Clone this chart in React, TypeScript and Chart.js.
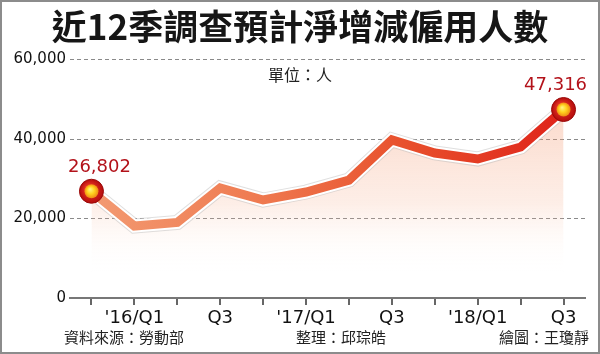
import React, { useEffect, useRef } from "react";
import { Chart, registerables } from "chart.js";

Chart.register(...registerables);

const TITLE = "近12季調查預計淨增減僱用人數";
const UNIT = "單位：人";
const SOURCE = "資料來源：勞動部";
const EDITOR = "整理：邱琮皓";
const ARTIST = "繪圖：王瓊靜";

const categories = ["'15/Q4", "'16/Q1", "'16/Q2", "'16/Q3", "'16/Q4", "'17/Q1", "'17/Q2", "'17/Q3", "'17/Q4", "'18/Q1", "'18/Q2", "'18/Q3"];
const tickLabels = ["", "'16/Q1", "", "Q3", "", "'17/Q1", "", "Q3", "", "'18/Q1", "", "Q3"];
const values = [26802, 18075, 18980, 27600, 24600, 26600, 29600, 39700, 36400, 34900, 37900, 47316];
const yTicks = [0, 20000, 40000, 60000];

function lineGradient(context: any) {
  const chart = context.chart;
  const a = chart.chartArea;
  if (!a) return "#e85530";
  const g = chart.ctx.createLinearGradient(a.left, 0, a.right, 0);
  g.addColorStop(0, "#f39e76");
  g.addColorStop(0.35, "#ef7c52");
  g.addColorStop(0.65, "#e8502c");
  g.addColorStop(1, "#de1e18");
  return g;
}

function fillGradient(context: any) {
  const chart = context.chart;
  const a = chart.chartArea;
  if (!a) return "rgba(245,160,120,0.2)";
  const g = chart.ctx.createLinearGradient(0, a.top + 40, 0, a.bottom - 24);
  g.addColorStop(0, "rgba(244,150,110,0.38)");
  g.addColorStop(0.6, "rgba(246,170,135,0.2)");
  g.addColorStop(1, "rgba(255,255,255,0)");
  return g;
}

const decorPlugin = {
  id: "decor",
  beforeDatasetsDraw(chart: any) {
    const ctx = chart.ctx;
    const ys = chart.scales.y;
    const a = chart.chartArea;
    ctx.save();
    ctx.strokeStyle = "#8a8a8a";
    ctx.lineWidth = 1;
    ctx.setLineDash([4, 3]);
    yTicks.forEach((v) => {
      if (v === 0) return;
      const y = Math.round(ys.getPixelForValue(v)) + 0.5;
      ctx.beginPath();
      ctx.moveTo(a.left, y);
      ctx.lineTo(a.right, y);
      ctx.stroke();
    });
    ctx.restore();
  },
  afterDraw(chart: any) {
    const ctx = chart.ctx;
    ctx.save();
    ctx.fillStyle = "#161616";
    ctx.textAlign = "center";
    ctx.textBaseline = "middle";
    ctx.font = "bold 35px 'Noto Sans CJK TC'";
    ctx.fillText(TITLE, 300, 27);
    ctx.font = "16px 'Noto Sans CJK TC'";
    ctx.fillStyle = "#222";
    ctx.fillText(UNIT, 300, 75);
    ctx.font = "15px 'Noto Sans CJK TC'";
    ctx.textAlign = "left";
    ctx.fillText(SOURCE, 64, 337);
    ctx.textAlign = "center";
    ctx.fillText(EDITOR, 341, 337);
    ctx.textAlign = "right";
    ctx.fillText(ARTIST, 589, 337);
    ctx.strokeStyle = "#8c8c8c";
    ctx.lineWidth = 2;
    ctx.strokeRect(1, 1, 598, 352);
    ctx.restore();
  },
  afterDatasetsDraw(chart: any) {
    const ctx = chart.ctx;
    const meta = chart.getDatasetMeta(0);
    const idxs = [0, values.length - 1];
    ctx.save();
    idxs.forEach((i) => {
      const p = meta.data[i];
      if (!p) return;
      const x = p.x;
      const y = p.y;
      ctx.beginPath();
      ctx.arc(x, y, 12, 0, Math.PI * 2);
      const rg = ctx.createRadialGradient(x - 3, y - 3, 2, x, y, 12);
      rg.addColorStop(0, "#f03a2a");
      rg.addColorStop(1, "#b40c0c");
      ctx.fillStyle = rg;
      ctx.fill();
      ctx.strokeStyle = "#9a0a0a";
      ctx.lineWidth = 1;
      ctx.stroke();
      ctx.beginPath();
      ctx.arc(x, y, 7, 0, Math.PI * 2);
      const yg = ctx.createRadialGradient(x - 1.5, y - 2, 0.5, x, y, 7);
      yg.addColorStop(0, "#fff27a");
      yg.addColorStop(0.5, "#ffd21e");
      yg.addColorStop(1, "#f08a14");
      ctx.fillStyle = yg;
      ctx.fill();
      ctx.fillStyle = "#b3121a";
      ctx.font = "18px 'DejaVu Sans'";
      ctx.textAlign = "center";
      ctx.textBaseline = "middle";
      const dx = i === 0 ? 8 : -8;
      ctx.fillText(values[i].toLocaleString("en-US"), x + dx, y - 24);
    });
    ctx.restore();
  },
};

export default function App() {
  const ref = useRef<HTMLCanvasElement | null>(null);
  useEffect(() => {
    document.body.style.margin = "0";
    const canvas = ref.current;
    if (!canvas) return;
    const chart = new Chart(canvas, {
      type: "line",
      data: {
        labels: categories,
        datasets: [
          {
            data: values,
            borderColor: lineGradient,
            borderWidth: 9,
            pointRadius: 0,
            fill: false,
            tension: 0,
          },
          {
            data: values,
            borderColor: "#ffffff",
            borderWidth: 13,
            pointRadius: 0,
            fill: false,
            tension: 0,
          },
          {
            data: values,
            borderColor: "rgba(185,185,185,0.45)",
            borderWidth: 15,
            pointRadius: 0,
            fill: "origin",
            backgroundColor: fillGradient,
            tension: 0,
          },
        ],
      },
      options: {
        animation: false,
        responsive: false,
        events: [],
        layout: { padding: { top: 59, right: 15, bottom: 26, left: 0 } },
        plugins: {
          legend: { display: false },
          tooltip: { enabled: false },
          title: { display: false },
        },
        scales: {
          x: {
            type: "category",
            offset: true,
            border: { display: true, color: "#777", width: 2 },
            grid: {
              display: true,
              offset: false,
              drawOnChartArea: false,
              drawTicks: true,
              tickLength: 7,
              color: "#666",
              lineWidth: 2,
            },
            ticks: {
              autoSkip: false,
              maxRotation: 0,
              padding: 3,
              color: "#111",
              font: { family: "'DejaVu Sans'", size: 18 },
              callback: (_v: any, i: number) => tickLabels[i],
            },
            afterFit: (s: any) => {
              s.height = 30;
            },
          },
          y: {
            min: 0,
            max: 60000,
            border: { display: false },
            grid: { display: false, drawTicks: false },
            afterBuildTicks: (s: any) => {
              s.ticks = yTicks.map((v) => ({ value: v }));
            },
            ticks: {
              padding: 4,
              color: "#111",
              font: { family: "'DejaVu Sans'", size: 15 },
              callback: (v: any) => Number(v).toLocaleString("en-US"),
            },
            afterFit: (s: any) => {
              s.width = 70;
            },
          },
        },
      },
      plugins: [decorPlugin],
    } as any);
    return () => chart.destroy();
  }, []);
  return (
    <div style={{ width: 600, height: 354, position: "relative", background: "#fff" }}>
      <canvas ref={ref} width={600} height={354} style={{ display: "block" }} />
    </div>
  );
}
